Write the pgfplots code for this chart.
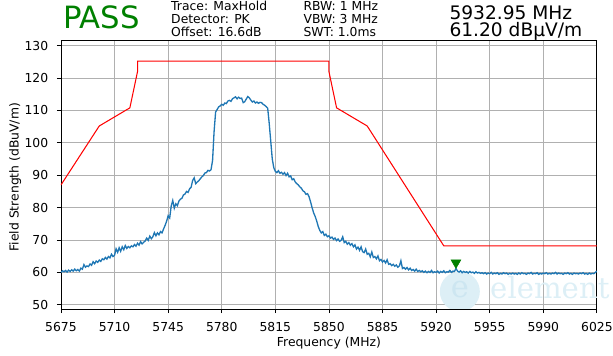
\documentclass[border=0pt]{standalone}
\usepackage{pgfplots}
\pgfplotsset{compat=1.18}
\usepackage{fontspec}
\setmainfont{DejaVu Sans}
\newfontfamily\wmfont{DejaVu Serif}
\definecolor{mplblue}{HTML}{1F77B4}
\definecolor{gridgray}{HTML}{B0B0B0}
\definecolor{passgreen}{HTML}{008000}
\definecolor{wmblue}{HTML}{DDEFF6}
\definecolor{wmblue2}{HTML}{CDE6F1}
\begin{document}
\begin{tikzpicture}
\useasboundingbox (-43.9pt,-33.8pt) rectangle (397.5pt,222.5pt);
\begin{axis}[
  at={(0,0)}, anchor=south west,
  scale only axis, width=385.9pt, height=193.7pt,
  xmin=5675, xmax=6025, ymin=48.7, ymax=131.75,
  xtick={5675,5710,5745,5780,5815,5850,5885,5920,5955,5990,6025},
  ytick={50,60,70,80,90,100,110,120,130},
  xtick pos=left, ytick pos=left,
  tick align=outside, major tick length=2.9pt,
  tick style={black, line width=0.6pt},
  axis line style={line width=0.6pt},
  grid=major, grid style={color=gridgray, line width=0.6pt},
  /pgf/number format/assume math mode=true,
  /pgf/number format/1000 sep={},
  tick label style={font=\fontsize{8.9}{10}\selectfont},
  xticklabel style={yshift=-3pt},
  yticklabel style={xshift=-2.8pt},
  label style={font=\fontsize{8.9}{10}\selectfont},
  xlabel={Frequency (MHz)},
  ylabel={Field Strength (dBuV/m)},
  xlabel style={at={(axis description cs:0.5,-0.1265)}, anchor=center},
  ylabel style={at={(axis description cs:-0.0855,0.49)}, anchor=center},
  clip=true,
]
% watermark
\fill[wmblue] (axis cs:5935.5,54.1) circle[radius=14.4pt];
\node[text=wmblue2, font=\wmfont\fontsize{22}{22}\selectfont] at (axis cs:5935.5,54.6) {e};
% limit line
\addplot[red, line width=0.75pt] coordinates {
(5675,87.0) (5700,105.2) (5720,110.8) (5725,122.0) (5725,125.2) (5850,125.2) (5850,122.0) (5855,110.8) (5875,105.2) (5925,68.2) (6025,68.2)
};
% measured trace
\addplot[mplblue, line width=0.95pt] coordinates {
(5675,60.0)(5676,60.5)(5677,60.2)(5678,60.6)(5679,60.1)(5680,60.7)(5681,60.3)(5682,60.8)(5683,60.4)(5684,61.0)
(5685,60.5)(5686,60.9)(5687,60.4)(5688,61.3)(5689,61.0)(5690,62.4)(5691,61.6)(5692,62.0)(5693,61.8)(5694,62.6)
(5695,62.2)(5696,63.3)(5697,62.7)(5698,63.5)(5699,63.1)(5700,63.8)(5701,63.4)(5702,64.2)(5703,63.9)(5704,64.6)
(5705,64.1)(5706,64.9)(5707,64.5)(5708,65.6)(5709,64.9)(5710,65.3)(5711,67.3)(5712,66.2)(5713,67.6)(5714,66.5)
(5715,67.9)(5716,67.0)(5717,68.3)(5718,67.4)(5719,68.0)(5720,67.6)(5721,68.2)(5722,67.9)(5723,68.6)(5724,68.1)
(5725,69.0)(5726,68.4)(5727,69.5)(5728,68.8)(5729,69.3)(5730,69.7)(5731,70.6)(5732,69.9)(5733,71.2)(5734,70.4)
(5735,71.0)(5736,72.3)(5737,71.3)(5738,72.2)(5739,71.6)(5740,72.6)(5741,72.2)(5742,73.4)(5743,74.5)(5744,75.8)
(5745,77.5)(5746,76.8)(5747,80.5)(5748,82.2)(5749,79.8)(5750,81.2)(5751,80.6)(5752,82.0)(5753,82.6)(5754,82.9)
(5755,83.9)(5756,84.2)(5757,85.0)(5758,84.7)(5759,85.8)(5760,86.3)(5761,88.4)(5762,89.2)(5763,87.4)(5764,87.9)
(5765,88.3)(5766,88.9)(5767,89.5)(5768,89.9)(5769,90.7)(5770,90.8)(5771,91.5)(5772,91.3)(5773,91.7)(5774,94.5)
(5775,103.5)(5776,109.5)(5777,110.3)(5778,111.1)(5779,111.4)(5780,111.9)(5781,111.6)(5782,112.3)(5783,112.1)(5784,112.9)
(5785,113.1)(5786,112.8)(5787,113.6)(5788,113.9)(5789,114.2)(5790,113.6)(5791,114.1)(5792,113.7)(5793,113.8)(5794,112.4)
(5795,112.7)(5796,113.5)(5797,114.3)(5798,113.9)(5799,113.2)(5800,112.6)(5801,112.9)(5802,112.3)(5803,112.6)(5804,112.2)
(5805,112.5)(5806,112.4)(5807,111.9)(5808,111.6)(5809,111.2)(5810,110.7)(5811,106.0)(5812,100.5)(5813,95.0)(5814,92.3)
(5815,91.2)(5816,90.8)(5817,91.4)(5818,90.6)(5819,90.9)(5820,90.3)(5821,90.8)(5822,89.9)(5823,90.6)(5824,89.5)
(5825,89.8)(5826,88.6)(5827,88.9)(5828,87.9)(5829,87.4)(5830,87.0)(5831,86.4)(5832,86.0)(5833,85.2)(5834,84.9)
(5835,84.1)(5836,84.3)(5837,83.4)(5838,81.8)(5839,80.0)(5840,78.4)(5841,77.3)(5842,75.9)(5843,74.2)(5844,73.0)
(5845,72.2)(5846,72.6)(5847,71.4)(5848,71.8)(5849,71.0)(5850,71.3)(5851,70.6)(5852,70.9)(5853,70.2)(5854,70.6)
(5855,69.8)(5856,70.3)(5857,69.6)(5858,69.9)(5859,71.0)(5860,69.2)(5861,69.6)(5862,68.7)(5863,69.2)(5864,68.4)
(5865,68.9)(5866,67.9)(5867,68.5)(5868,67.2)(5869,67.8)(5870,66.8)(5871,67.9)(5872,66.4)(5873,66.1)(5874,67.2)
(5875,65.6)(5876,65.9)(5877,64.8)(5878,66.3)(5879,64.6)(5880,64.9)(5881,64.2)(5882,65.1)(5883,63.6)(5884,64.0)
(5885,63.2)(5886,63.7)(5887,62.9)(5888,63.9)(5889,62.5)(5890,62.7)(5891,62.1)(5892,62.5)(5893,61.9)(5894,62.3)
(5895,61.6)(5896,62.0)(5897,63.6)(5898,61.2)(5899,61.5)(5900,61.0)(5901,61.5)(5902,60.8)(5903,61.3)(5904,60.6)
(5905,60.9)(5906,60.4)(5907,61.0)(5908,60.3)(5909,60.6)(5910,60.2)(5911,60.5)(5912,60.0)(5913,60.4)(5914,59.9)
(5915,60.3)(5916,60.0)(5917,60.6)(5918,59.9)(5919,60.2)(5920,60.0)(5921,60.4)(5922,59.8)(5923,60.3)(5924,60.0)
(5925,60.5)(5926,59.9)(5927,60.2)(5928,60.1)(5929,60.6)(5930,60.0)(5931,60.4)(5932,60.3)(5933,61.2)(5934,60.4)
(5935,60.1)(5936,60.5)(5937,59.9)(5938,60.3)(5939,60.0)(5940,60.2)(5941,59.8)(5942,60.3)(5943,59.9)(5944,60.1)
(5945,59.7)(5946,60.2)(5947,59.8)(5948,60.0)(5949,59.7)(5950,59.9)(5951,59.6)(5952,59.9)(5953,59.5)(5954,59.8)
(5955,59.6)(5956,60.0)(5957,59.5)(5958,59.8)(5959,59.6)(5960,59.9)(5961,59.4)(5962,59.7)(5963,59.5)(5964,59.9)
(5965,59.6)(5966,59.8)(5967,59.4)(5968,59.7)(5969,59.5)(5970,59.8)(5971,59.5)(5972,59.7)(5973,59.4)(5974,59.8)
(5975,59.5)(5976,59.9)(5977,59.6)(5978,59.7)(5979,59.4)(5980,59.8)(5981,59.6)(5982,60.0)(5983,59.5)(5984,59.7)
(5985,59.6)(5986,59.9)(5987,59.4)(5988,59.7)(5989,59.5)(5990,59.8)(5991,59.6)(5992,59.9)(5993,59.5)(5994,59.7)
(5995,59.5)(5996,59.8)(5997,59.6)(5998,60.0)(5999,59.5)(6000,59.8)(6001,59.6)(6002,59.7)(6003,59.4)(6004,59.8)
(6005,59.6)(6006,59.9)(6007,59.5)(6008,59.7)(6009,59.4)(6010,59.8)(6011,59.6)(6012,59.7)(6013,59.5)(6014,59.8)
(6015,59.6)(6016,59.9)(6017,59.5)(6018,59.7)(6019,59.4)(6020,59.8)(6021,59.5)(6022,59.7)(6023,59.6)(6024,60.0)
(6025,60.4)
};
% peak marker
\addplot[only marks, mark=triangle*, mark size=4.1pt, mark options={rotate=180, fill=passgreen, draw=passgreen}] coordinates {(5932.95,63.0)};
\end{axis}
% watermark text (outside the clip)
\node[anchor=base west, inner sep=0pt, text=wmblue, font=\wmfont\fontsize{21}{21}\selectfont] at (308.9pt,7.2pt) {element};
% header texts
\node[anchor=base west, inner sep=0pt, text=passgreen, font=\fontsize{22.1}{24}\selectfont] at (1.4pt,202.1pt) {PASS};
\node[anchor=base west, inner sep=0pt, font=\fontsize{8.9}{10}\selectfont] at (79.2pt,214.6pt) {Trace: MaxHold};
\node[anchor=base west, inner sep=0pt, font=\fontsize{8.9}{10}\selectfont] at (79.2pt,205.3pt) {Detector: PK};
\node[anchor=base west, inner sep=0pt, font=\fontsize{8.9}{10}\selectfont] at (79.2pt,196.1pt) {Offset: 16.6dB};
\node[anchor=base west, inner sep=0pt, font=\fontsize{8.9}{10}\selectfont] at (174.5pt,214.6pt) {RBW: 1 MHz};
\node[anchor=base west, inner sep=0pt, font=\fontsize{8.9}{10}\selectfont] at (174.5pt,205.3pt) {VBW: 3 MHz};
\node[anchor=base west, inner sep=0pt, font=\fontsize{8.9}{10}\selectfont] at (174.5pt,196.1pt) {SWT: 1.0ms};
\node[anchor=base west, inner sep=0pt, font=\fontsize{13.4}{15}\selectfont] at (279.6pt,208.5pt) {5932.95 MHz};
\node[anchor=base west, inner sep=0pt, font=\fontsize{13.4}{15}\selectfont] at (279.6pt,196.0pt) {61.20 dBµV/m};
\end{tikzpicture}
\end{document}
